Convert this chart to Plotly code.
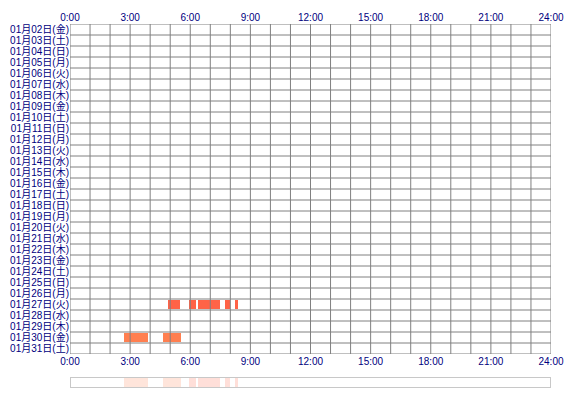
import plotly.graph_objects as go

days = ["01月02日(金)", "01月03日(土)", "01月04日(日)", "01月05日(月)", "01月06日(火)",
        "01月07日(水)", "01月08日(木)", "01月09日(金)", "01月10日(土)", "01月11日(日)",
        "01月12日(月)", "01月13日(火)", "01月14日(水)", "01月15日(木)", "01月16日(金)",
        "01月17日(土)", "01月18日(日)", "01月19日(月)", "01月20日(火)", "01月21日(水)",
        "01月22日(木)", "01月23日(金)", "01月24日(土)", "01月25日(日)", "01月26日(月)",
        "01月27日(火)", "01月28日(水)", "01月29日(木)", "01月30日(金)", "01月31日(土)"]

hour_ticks = [0, 3, 6, 9, 12, 15, 18, 21, 24]
hour_labels = ["0:00", "3:00", "6:00", "9:00", "12:00", "15:00", "18:00", "21:00", "24:00"]

bar_day = ["01月27日(火)"] * 5 + ["01月30日(金)"] * 2
bar_start = [4.9, 5.95, 6.4, 7.75, 8.25, 2.7, 4.65]
bar_end = [5.5, 6.3, 7.5, 8.0, 8.4, 3.9, 5.55]
bar_color = ["#FF6347"] * 5 + ["#FF7F50"] * 2

row_idx = {d: i for i, d in enumerate(days)}
ys = [row_idx[d] for d in bar_day]
durs = [e - s for s, e in zip(bar_start, bar_end)]

fig = go.Figure()
fig.add_trace(go.Bar(orientation="h", y=ys, x=durs, base=bar_start, width=0.8,
                     marker=dict(color=bar_color, line=dict(width=0)),
                     xaxis="x", yaxis="y", showlegend=False, hoverinfo="skip"))
# invisible trace for bottom axis
fig.add_trace(go.Scatter(x=[0, 24], y=[0, 0], mode="markers", marker=dict(opacity=0),
                         xaxis="x2", yaxis="y", showlegend=False, hoverinfo="skip"))
# overview strip
fig.add_trace(go.Bar(orientation="h", y=[0] * len(bar_start), x=durs, base=bar_start, width=1,
                     marker=dict(color=bar_color, line=dict(width=0)), opacity=0.2,
                     xaxis="x3", yaxis="y3", showlegend=False, hoverinfo="skip"))

font = dict(family="Liberation Sans, Noto Sans CJK JP, sans-serif", size=10, color="#000080")
main_bottom = 0.0934
fig.update_layout(
    width=570, height=400,
    margin=dict(l=70, r=19, t=24, b=12),
    plot_bgcolor="white", paper_bgcolor="white",
    barmode="overlay",
    font=font,
    xaxis=dict(domain=[0, 1], range=[0, 24], side="top", anchor="y", automargin=False,
               tickvals=hour_ticks, ticktext=hour_labels, showgrid=False,
               zeroline=False, showline=False, ticks="", tickfont=font),
    xaxis2=dict(domain=[0, 1], range=[0, 24], side="bottom", anchor="y", overlaying="x",
                automargin=False,
                tickvals=hour_ticks, ticktext=hour_labels, showgrid=False,
                zeroline=False, showline=False, ticks="", tickfont=font),
    yaxis=dict(domain=[main_bottom, 1], range=[len(days) - 0.5, -0.5], anchor="x",
               automargin=False,
               tickvals=list(range(len(days))), ticktext=days, showgrid=False,
               zeroline=False, showline=False, ticks="", tickfont=font),
    xaxis3=dict(domain=[0, 1], range=[0, 24], anchor="y3", showticklabels=False,
                automargin=False,
                showgrid=False, zeroline=False, showline=False, ticks=""),
    yaxis3=dict(domain=[0, 0.0302], range=[-0.5, 0.5], anchor="x3", showticklabels=False,
                automargin=False,
                showgrid=False, zeroline=False, showline=False, ticks=""),
    bargap=0,
)

shapes = []
gcol = "#808080"
for h in range(25):
    shapes.append(dict(type="line", xref="x", yref="y", x0=h, x1=h, y0=-0.5, y1=len(days) - 0.5,
                       line=dict(color=gcol, width=1), layer="above"))
for r in range(len(days) + 1):
    shapes.append(dict(type="line", xref="x", yref="y", x0=0, x1=24, y0=r - 0.5, y1=r - 0.5,
                       line=dict(color=gcol, width=1), layer="above"))
shapes.append(dict(type="rect", xref="x3", yref="y3", x0=0, x1=24, y0=-0.5, y1=0.5,
                   line=dict(color="#C8C8C8", width=2), layer="above"))
fig.update_layout(shapes=shapes)

fig.write_html("out.html", config={"displayModeBar": False},
               post_script="document.body.style.margin='0';")
